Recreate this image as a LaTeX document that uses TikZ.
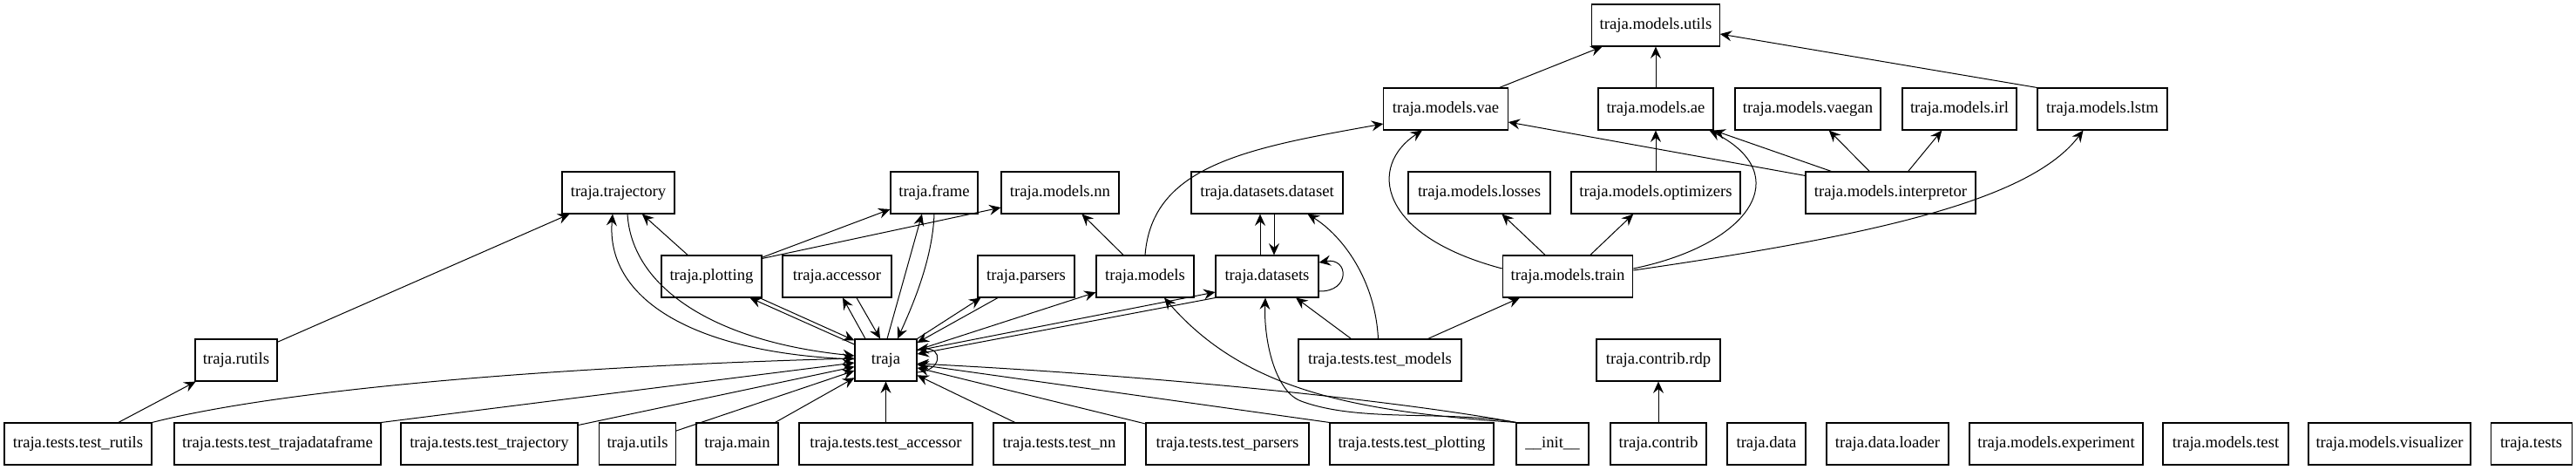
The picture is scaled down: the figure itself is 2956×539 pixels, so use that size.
\documentclass[tikz,border=0pt]{standalone}
\usepackage{fontspec}
\setmainfont{Liberation Serif}
\usetikzlibrary{arrows.meta,calc}
\tikzset{
  box/.style={draw, rectangle, line width=0.8pt, minimum height=36pt, inner sep=0pt,
    font=\fontsize{14}{16}\selectfont},
  bw/.style={minimum width=#1*0.75pt},
  arr/.style={-{Stealth[length=10pt,width=9pt,inset=3.5pt]}, line width=0.75pt},
}
\begin{document}
\begin{tikzpicture}[x=0.75pt,y=-0.75pt]
\useasboundingbox (0,0) rectangle (2956,539);
% rank 0
\node[box,bw=146.5] (mutils) at (1900,29) {traja.models.utils};
% rank 1
\node[box,bw=142.5] (vae) at (1659,125) {traja.models.vae};
\node[box,bw=132] (ae) at (1900,125) {traja.models.ae};
\node[box,bw=167] (vaegan) at (2074.5,125) {traja.models.vaegan};
\node[box,bw=131] (irl) at (2248.5,125) {traja.models.irl};
\node[box,bw=149] (lstm) at (2412.5,125) {traja.models.lstm};
% rank 2
\node[box,bw=129] (trajectory) at (709.5,221) {traja.trajectory};
\node[box,bw=100] (frame) at (1072,221) {traja.frame};
\node[box,bw=135] (nn) at (1216.5,221) {traja.models.nn};
\node[box,bw=174] (dataset) at (1454,221) {traja.datasets.dataset};
\node[box,bw=163] (losses) at (1697.5,221) {traja.models.losses};
\node[box,bw=194] (opt) at (1900,221) {traja.models.optimizers};
\node[box,bw=195] (interp) at (2169.5,221) {traja.models.interpretor};
% rank 3
\node[box,bw=115] (plotting) at (816.5,317) {traja.plotting};
\node[box,bw=125] (accessor) at (960.5,317) {traja.accessor};
\node[box,bw=111] (parsers) at (1177.5,317) {traja.parsers};
\node[box,bw=112] (models) at (1314,317) {traja.models};
\node[box,bw=118] (datasets) at (1454,317) {traja.datasets};
\node[box,bw=149.5] (train) at (1799,317) {traja.models.train};
% rank 4
\node[box,bw=94] (rutils) at (271,413) {traja.rutils};
\node[box,bw=71] (traja) at (1016.5,413) {traja};
\node[box,bw=187] (tmodels) at (1583.5,413) {traja.tests.test\_models};
\node[box,bw=142] (rdp) at (1903,413) {traja.contrib.rdp};
% rank 5
\node[box,bw=169] (trutils) at (89.5,509) {traja.tests.test\_rutils};
\node[box,bw=237] (tdf) at (318.5,509) {traja.tests.test\_trajadataframe};
\node[box,bw=203] (ttraj) at (561.5,509) {traja.tests.test\_trajectory};
\node[box,bw=88] (utils) at (731.5,509) {traja.utils};
\node[box,bw=94] (main) at (846,509) {traja.main};
\node[box,bw=199] (taccessor) at (1016.5,509) {traja.tests.test\_accessor};
\node[box,bw=151] (tnn) at (1215.5,509) {traja.tests.test\_nn};
\node[box,bw=187] (tparsers) at (1408.5,509) {traja.tests.test\_parsers};
\node[box,bw=188] (tplotting) at (1620,509) {traja.tests.test\_plotting};
\node[box,bw=83] (init) at (1781.5,509) {\_\_init\_\_};
\node[box,bw=110] (contrib) at (1903,509) {traja.contrib};
\node[box,bw=90] (data) at (2027,509) {traja.data};
\node[box,bw=140] (loader) at (2166,509) {traja.data.loader};
\node[box,bw=199] (experiment) at (2359.5,509) {traja.models.experiment};
\node[box,bw=144] (mtest) at (2554,509) {traja.models.test};
\node[box,bw=186] (visualizer) at (2742,509) {traja.models.visualizer};
\node[box,bw=93] (tests) at (2904.5,509) {traja.tests};

% models cluster
\draw[arr] (vae) -- (mutils);
\draw[arr] (ae) -- (mutils);
\draw[arr] (lstm.north west) -- ($(mutils.east)+(0,10)$);
\draw[arr] ($(interp.north west)+(0,5)$) -- ($(vae.east)+(0,15)$);
\draw[arr] ($(interp.north west)+(30,0)$) -- (ae.south east);
\draw[arr] (interp) -- (vaegan);
\draw[arr] (interp) -- (irl);
\draw[arr] (opt) -- (ae);
\draw[arr] ($(train.west)+(0,-9)$) .. controls (1580,270) and (1570,190) .. ($(vae.south)+(-27,0)$);
\draw[arr] ($(train.east)+(0,-9)$) .. controls (2010,280) and (2060,200) .. ($(ae.south east)+(-5,0)$);
\draw[arr] (train) -- (losses);
\draw[arr] (train) -- (opt);
\draw[arr] ($(train.east)+(0,-7)$) .. controls (2150,270) and (2330,230) .. ($(lstm.south)+(-22,0)$);
\draw[arr] (models.north) .. controls (1322,190) and (1430,170) .. ($(vae.west)+(0,17)$);
\draw[arr] (models) -- (nn);
% datasets
\draw[arr] ($(datasets.north)+(-8,0)$) -- ($(dataset.south)+(-8,0)$);
\draw[arr] ($(dataset.south)+(8,0)$) -- ($(datasets.north)+(8,0)$);
\draw[arr] ($(datasets.east)+(0,17)$) .. controls (1550,335) and (1548,295) .. ($(datasets.east)+(0,-16)$);
\draw[arr] ($(tmodels.north)+(-2,0)$) .. controls (1578,320) and (1540,270) .. ($(dataset.south east)+(-41,0)$);
\draw[arr] (tmodels) -- (datasets);
\draw[arr] (tmodels) -- (train);
\draw[arr] (contrib) -- (rdp);
% left part
\draw[arr] (rutils) -- (trajectory);
\draw[arr] (trutils) -- (rutils);
\draw[arr] (trutils.north east) .. controls (330,445) and (650,420) .. ($(traja.west)+(0,-2)$);
\draw[arr] (tdf.north east) -- ($(traja.west)+(0,3)$);
\draw[arr] (ttraj) -- (traja);
\draw[arr] (utils) -- (traja);
\draw[arr] (main) -- (traja);
\draw[arr] (taccessor) -- (traja);
\draw[arr] (tnn) -- (traja);
\draw[arr] (tparsers) -- (traja);
\draw[arr] (tplotting.north west) -- (traja);
\draw[arr] (init.north west) .. controls (1620,462) and (1350,432) .. ($(traja.east)+(0,4)$);
\draw[arr] (init.north west) .. controls (1560,472) and (1430,450) .. ($(models.south)+(22,0)$);
\draw[arr] (init.north west) .. controls (1660,470) and (1560,485) .. (1493,460)
   .. controls (1463,449) and (1450,390) .. ($(datasets.south)+(-2,0)$);
\draw[arr] (plotting) -- (trajectory);
\draw[arr] (plotting) -- (frame);
\draw[arr] ($(plotting.north east)+(0,4)$) -- ($(nn.west)+(0,17)$);
\draw[arr] ($(traja.west)+(0,-18)$) -- ($(plotting.south)+(44,0)$);
\draw[arr] ($(plotting.south)+(55,0)$) -- ($(traja.north west)+(0,2)$);
\draw[arr] ($(traja.west)+(0,-1)$) .. controls (790,405) and (695,340) .. ($(trajectory.south)+(-6.5,0)$);
\draw[arr] ($(trajectory.south)+(10.5,0)$) .. controls (725,330) and (820,392) .. ($(traja.west)+(0,-5)$);
\draw[arr] ($(traja.north)+(-23.5,0)$) -- ($(accessor.south)+(6.5,0)$);
\draw[arr] ($(accessor.south)+(22.5,0)$) -- ($(traja.north)+(-6.5,0)$);
\draw[arr] ($(traja.north)+(1.5,0)$) -- ($(frame.south)+(-14,0)$);
\draw[arr] (frame.south) .. controls (1070,300) and (1045,355) .. ($(traja.north)+(13.5,0)$);
\draw[arr] (traja.north east) -- ($(parsers.south west)+(4,0)$);
\draw[arr] ($(parsers.south)+(-32.5,0)$) -- ($(traja.east)+(0,-20)$);
\draw[arr] (traja) -- (models);
\draw[arr] ($(traja.east)+(0,-11)$) -- ($(datasets.west)+(0,18)$);
\draw[arr] (datasets.south west) -- ($(traja.east)+(0,-7)$);
\draw[arr] ($(traja.east)+(0,14)$) .. controls (1082,425) and (1082,398) .. ($(traja.east)+(0,-12)$);
\end{tikzpicture}
\end{document}
